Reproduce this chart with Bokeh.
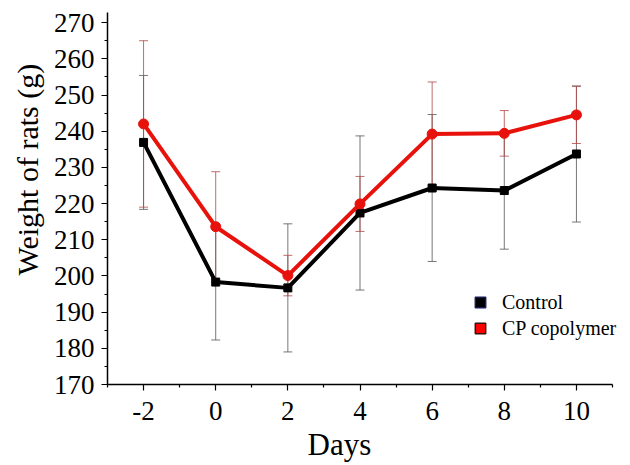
from bokeh.plotting import figure
from bokeh.models import Range1d, FixedTicker, Legend, LegendItem, Title
from bokeh.embed import file_html
from bokeh.resources import INLINE

days = [-2, 0, 2, 4, 6, 8, 10]
control = [236.9, 198.3, 196.7, 217.4, 224.3, 223.6, 233.7]
control_err = [18.5, 16.0, 17.7, 21.3, 20.3, 16.2, 18.8]
cp = [242.0, 213.6, 200.1, 219.9, 239.2, 239.4, 244.5]
cp_err = [23.0, 15.2, 5.6, 7.6, 14.4, 6.3, 7.9]
y_ticks = [170, 180, 190, 200, 210, 220, 230, 240, 250, 260, 270]
x_ticks = [-2, 0, 2, 4, 6, 8, 10]
x_tick_labels = ["-2", "0", "2", "4", "6", "8", "10"]

FONT = "Liberation Serif"
RED = "#e8120c"

# frame spans 107..630 px; the axis itself spans -3..11 over 505 px
x_end = -3 + 14 * 523 / 505
p = figure(width=630, height=465, output_backend="svg", toolbar_location=None,
           x_range=Range1d(-3, x_end), y_range=Range1d(170, 272.8),
           min_border_left=107, min_border_right=0, min_border_top=12, min_border_bottom=81)
p.outline_line_color = None
p.xgrid.visible = False
p.ygrid.visible = False

# error bars
c_lo = [v - e for v, e in zip(control, control_err)]
c_hi = [v + e for v, e in zip(control, control_err)]
r_lo = [v - e for v, e in zip(cp, cp_err)]
r_hi = [v + e for v, e in zip(cp, cp_err)]

p.segment(x0=days, y0=c_lo, x1=days, y1=c_hi, line_color="#555555", line_width=1, line_alpha=0.8)
p.scatter(x=days + days, y=c_lo + c_hi, marker="dash", size=9, line_color="#555555", line_width=1, line_alpha=0.8)
p.segment(x0=days, y0=r_lo, x1=days, y1=r_hi, line_color="#b04848", line_width=1, line_alpha=0.8)
p.scatter(x=days + days, y=r_lo + r_hi, marker="dash", size=9, line_color="#b04848", line_width=1, line_alpha=0.8)

p.line(days, control, line_color="black", line_width=4)
p.scatter(days, control, marker="square", size=8, fill_color="black", line_color="black")
p.line(days, cp, line_color=RED, line_width=4)
p.scatter(days, cp, marker="circle", size=10, fill_color=RED, line_color=RED)

# legend entries (placeholder renderers)
nan = float("nan")
lc = p.scatter(x=[nan], y=[nan], marker="square", size=13, fill_color="black", line_color="#1c1c5a", line_width=1.5)
lr = p.scatter(x=[nan], y=[nan], marker="square", size=13, fill_color="#ff0000", line_color="#3a1010", line_width=1.5)
legend = Legend(items=[LegendItem(label="Control", renderers=[lc]),
                       LegendItem(label="CP copolymer", renderers=[lr])],
                location=(360, 43), background_fill_alpha=0, border_line_color=None,
                label_text_font=FONT, label_text_font_size="20px", label_text_color="black",
                glyph_width=26, glyph_height=26, label_height=24, spacing=-2, padding=0,
                margin=0, label_standoff=9)
p.add_layout(legend)

for ax in (p.xaxis[0], p.yaxis[0]):
    ax.axis_line_width = 1.5
    ax.axis_line_color = "black"
    ax.major_tick_line_color = "black"
    ax.minor_tick_line_color = "black"
    ax.major_tick_line_width = 1.2
    ax.minor_tick_line_width = 1.2
    ax.major_tick_in = 0
    ax.minor_tick_in = 0
    ax.major_tick_out = 6
    ax.minor_tick_out = 3
    ax.major_label_text_font = FONT
    ax.major_label_text_font_size = "27px"
    ax.major_label_text_color = "black"

p.xaxis.bounds = (-3, 11)
p.xaxis.ticker = FixedTicker(ticks=x_ticks, minor_ticks=[-3, -1, 1, 3, 5, 7, 9, 11])
p.xaxis.major_label_overrides = dict(zip(x_ticks, x_tick_labels))
p.yaxis.ticker = FixedTicker(ticks=y_ticks, minor_ticks=[175, 185, 195, 205, 215, 225, 235, 245, 255, 265])
p.xaxis.major_label_standoff = 11
p.yaxis.major_label_standoff = 7

xt = Title(text="Days", align="left", offset=200, standoff=4,
           text_font=FONT, text_font_size="31px", text_font_style="normal", text_color="black")
yt = Title(text="Weight of rats (g)", align="left", offset=109, standoff=14,
           text_font=FONT, text_font_size="30px", text_font_style="normal", text_color="black")
p.add_layout(xt, "below")
p.add_layout(yt, "left")

open("out.html", "w").write(file_html(p, INLINE))
